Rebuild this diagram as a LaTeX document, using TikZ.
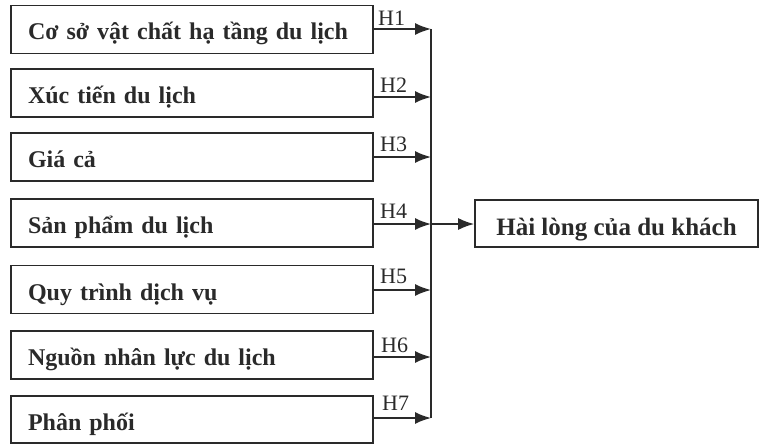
\documentclass[tikz,border=0pt]{standalone}
\usepackage{fontspec}
\setmainfont{Liberation Serif}
\usetikzlibrary{arrows.meta}
\definecolor{ink}{HTML}{2A2A2A}
\tikzset{
  factor/.style={draw=ink, line width=1.7pt, rectangle, inner xsep=17pt, inner ysep=0pt,
    text width=328pt, align=left, minimum height=48pt, text height=27pt, text depth=6pt,
    font=\fontsize{24}{28}\selectfont\bfseries, text=ink},
  outcome/.style={draw=ink, line width=1.7pt, rectangle, inner sep=0pt,
    minimum width=283pt, minimum height=47pt, text height=28pt, text depth=5pt,
    font=\fontsize{25}{28}\selectfont\bfseries, text=ink},
  hyp/.style={inner sep=0pt, font=\fontsize{22}{24}\selectfont, text=ink},
  link/.style={draw=ink, line width=1.6pt},
  arr/.style={link, -{Latex[length=16pt,width=12pt]}},
}
\begin{document}
\begin{tikzpicture}[x=1pt, y=-1pt]
  \useasboundingbox (0,0) rectangle (762,444);

  % factor boxes
  \node[factor] (b1) at (192,29.5) {\mbox{Cơ sở vật chất hạ tầng du lịch}};
  \node[factor] (b2) at (192,93)   {Xúc tiến du lịch};
  \node[factor] (b3) at (192,157)  {Giá cả};
  \node[factor] (b4) at (192,223)  {Sản phẩm du lịch};
  \node[factor] (b5) at (192,289.5){Quy trình dịch vụ};
  \node[factor] (b6) at (192,355)  {Nguồn nhân lực du lịch};
  \node[factor, minimum height=47pt] (b7) at (192,419.5) {Phân phối};

  % outcome box
  \node[outcome] (out) at (616.5,223.5) {Hài lòng của du khách};

  % junction points on the collecting bus
  \coordinate (j1) at (431,29);
  \coordinate (j2) at (431,97);
  \coordinate (j3) at (431,157);
  \coordinate (j4) at (431,224);
  \coordinate (j5) at (431,290);
  \coordinate (j6) at (431,357);
  \coordinate (j7) at (431,418);

  % collecting bus
  \draw[link] (j1) -- (j7);

  % hypothesis arrows
  \foreach \i in {1,...,7}{
    \draw[arr] (b\i.east |- j\i) -- (j\i);
  }
  \draw[arr] (j4) -- (out.west |- j4);

  % hypothesis labels
  \node[hyp, anchor=base west] (h1) at (378,26)  {H1};
  \node[hyp, anchor=base west] (h2) at (380,92)  {H2};
  \node[hyp, anchor=base west] (h3) at (380,151) {H3};
  \node[hyp, anchor=base west] (h4) at (380,218) {H4};
  \node[hyp, anchor=base west] (h5) at (380,283) {H5};
  \node[hyp, anchor=base west] (h6) at (381,352) {H6};
  \node[hyp, anchor=base west] (h7) at (382,410) {H7};
\end{tikzpicture}
\end{document}
